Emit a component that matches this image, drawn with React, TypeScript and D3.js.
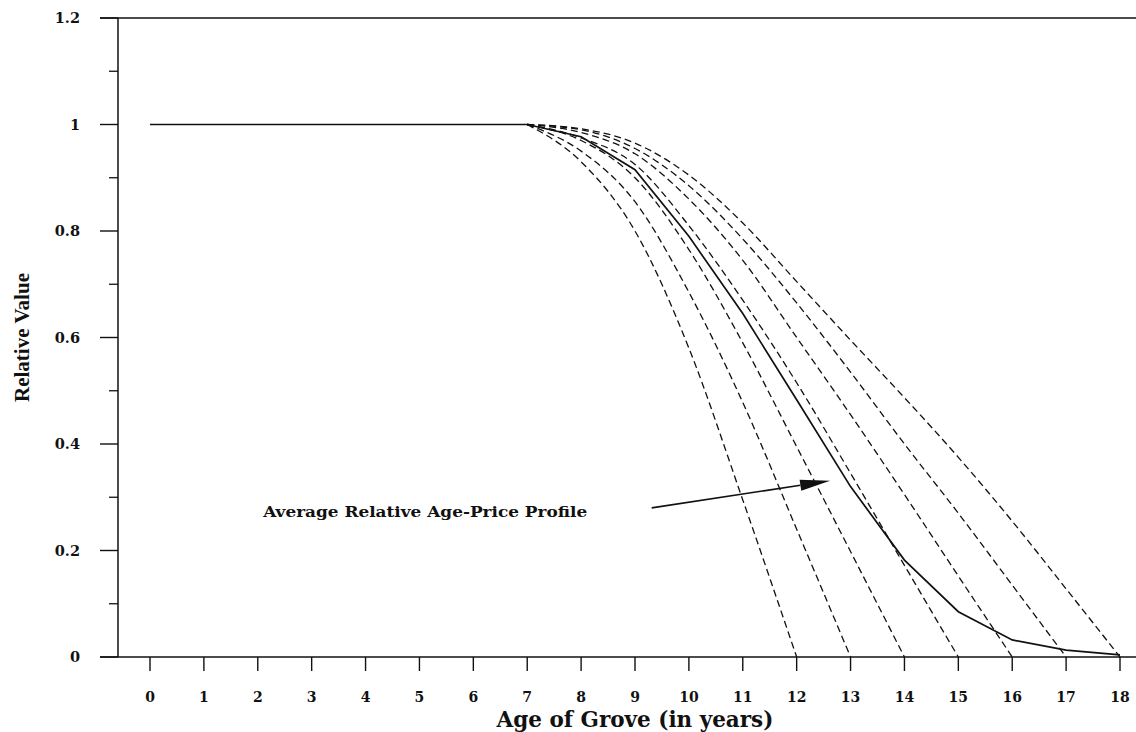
import React from "react";
import * as d3 from "d3";

// Ages of the grove, 0..18 years
const ages: number[] = d3.range(0, 19);

// Average relative age-price profile (solid line)
const averageProfile: number[] = [
  1, 1, 1, 1, 1, 1, 1, 1, 0.977, 0.915, 0.79, 0.645, 0.483, 0.32, 0.182, 0.085, 0.032, 0.013, 0.004,
];

// Individual relative age-price profiles (dashed), each starting at age 7
const profileAges12: number[] = [7, 8, 9, 10, 11, 12];
const profile12: number[] = [1, 0.93, 0.8, 0.58, 0.295, 0];

const profileAges13: number[] = [7, 8, 9, 10, 11, 12, 13];
const profile13: number[] = [1, 0.95, 0.855, 0.685, 0.478, 0.24, 0];

const profileAges14: number[] = [7, 8, 9, 10, 11, 12, 13, 14];
const profile14: number[] = [1, 0.97, 0.9, 0.765, 0.59, 0.395, 0.198, 0];

const profileAges15: number[] = [7, 8, 9, 10, 11, 12, 13, 14, 15];
const profile15: number[] = [1, 0.975, 0.925, 0.81, 0.67, 0.515, 0.345, 0.172, 0];

const profileAges16: number[] = [7, 8, 9, 10, 11, 12, 13, 14, 15, 16];
const profile16: number[] = [1, 0.985, 0.945, 0.86, 0.745, 0.6, 0.455, 0.305, 0.152, 0];

const profileAges17: number[] = [7, 8, 9, 10, 11, 12, 13, 14, 15, 16, 17];
const profile17: number[] = [1, 0.99, 0.955, 0.885, 0.785, 0.665, 0.535, 0.4, 0.27, 0.135, 0];

const profileAges18: number[] = [7, 8, 9, 10, 11, 12, 13, 14, 15, 16, 17, 18];
const profile18: number[] = [1, 0.992, 0.965, 0.905, 0.815, 0.705, 0.595, 0.487, 0.375, 0.255, 0.128, 0];

const dashedProfiles: { ages: number[]; values: number[] }[] = [
  { ages: profileAges12, values: profile12 },
  { ages: profileAges13, values: profile13 },
  { ages: profileAges14, values: profile14 },
  { ages: profileAges15, values: profile15 },
  { ages: profileAges16, values: profile16 },
  { ages: profileAges17, values: profile17 },
  { ages: profileAges18, values: profile18 },
];

// Y-axis ticks
const yMajorTicks: number[] = [0, 0.2, 0.4, 0.6, 0.8, 1, 1.2];
const yTickLabels: string[] = ["0", "0.2", "0.4", "0.6", "0.8", "1", "1.2"];
const yMinorTicks: number[] = [0.1, 0.3, 0.5, 0.7, 0.9, 1.1];

// Annotation text and arrow (in data units: age, value)
const annotationLabel = "Average Relative Age-Price Profile";
const annotationTextAt: [number, number] = [2.1, 0.263];
const arrowFrom: [number, number] = [9.31, 0.28];
const arrowTo: [number, number] = [12.62, 0.331];

const W = 1136;
const H = 732;
const axisLeft = 118;
const axisTop = 18;
const axisBottom = 657;
const frameLeft = 100;

const tickFont = "'DejaVu Serif', serif";

export default function App() {
  const x = d3.scaleLinear().domain([0, 18]).range([150, 1120]);
  const y = d3.scaleLinear().domain([0, 1.2]).range([axisBottom, axisTop]);

  const line = d3
    .line<[number, number]>()
    .x((d) => x(d[0]))
    .y((d) => y(d[1]));

  const smoothLine = d3
    .line<[number, number]>()
    .x((d) => x(d[0]))
    .y((d) => y(d[1]))
    .curve(d3.curveMonotoneX);

  const solidPath = line(ages.map((a, i) => [a, averageProfile[i]] as [number, number])) || "";

  // Arrow geometry
  const ax0 = x(arrowFrom[0]);
  const ay0 = y(arrowFrom[1]);
  const ax1 = x(arrowTo[0]);
  const ay1 = y(arrowTo[1]);
  const ang = Math.atan2(ay1 - ay0, ax1 - ax0);
  const headLen = 30;
  const headHalf = 5.5;
  const bx = ax1 - headLen * Math.cos(ang);
  const by = ay1 - headLen * Math.sin(ang);
  const nx = -Math.sin(ang);
  const ny = Math.cos(ang);
  const head = `M${ax1},${ay1} L${bx + nx * headHalf},${by + ny * headHalf} L${bx - nx * headHalf},${by - ny * headHalf} Z`;

  return (
    <svg
      width={W}
      height={H}
      viewBox={`0 0 ${W} ${H}`}
      style={{ position: "absolute", left: 0, top: 0, background: "#fff" }}
    >
      <rect x={0} y={0} width={W} height={H} fill="#fff" />

      {/* frame: top edge, y axis, x axis */}
      <line x1={frameLeft} x2={W} y1={axisTop} y2={axisTop} stroke="#111" strokeWidth={1.5} />
      <line x1={axisLeft} x2={axisLeft} y1={axisTop} y2={axisBottom} stroke="#111" strokeWidth={1.5} />
      <line x1={frameLeft} x2={W} y1={axisBottom} y2={axisBottom} stroke="#111" strokeWidth={1.5} />

      {/* y ticks */}
      {yMajorTicks.map((v, i) => (
        <g key={"ym" + i}>
          <line x1={frameLeft} x2={axisLeft} y1={y(v)} y2={y(v)} stroke="#111" strokeWidth={1.4} />
          <text
            x={80}
            y={y(v)}
            dy="0.36em"
            textAnchor="end"
            fontFamily={tickFont}
            fontWeight="bold"
            fontSize={14.5}
            fill="#111"
          >
            {yTickLabels[i]}
          </text>
        </g>
      ))}
      {yMinorTicks.map((v, i) => (
        <line key={"yn" + i} x1={109} x2={axisLeft} y1={y(v)} y2={y(v)} stroke="#111" strokeWidth={1.3} />
      ))}

      {/* x ticks */}
      {ages.map((a) => (
        <g key={"xt" + a}>
          <line x1={x(a)} x2={x(a)} y1={axisBottom} y2={axisBottom + 14} stroke="#111" strokeWidth={1.4} />
          <text
            x={x(a)}
            y={702}
            textAnchor="middle"
            fontFamily={tickFont}
            fontWeight="bold"
            fontSize={14}
            fill="#111"
          >
            {a}
          </text>
        </g>
      ))}

      {/* axis titles */}
      <text
        x={635}
        y={727}
        textAnchor="middle"
        fontFamily={tickFont}
        fontWeight="bold"
        fontSize={21.5}
        fill="#111"
      >
        Age of Grove (in years)
      </text>
      <text
        transform={`translate(29, ${(axisTop + axisBottom) / 2}) rotate(-90)`}
        textAnchor="middle"
        fontFamily="'Liberation Serif', 'Times New Roman', serif"
        fontWeight="bold"
        fontSize={21}
        fill="#111"
      >
        Relative Value
      </text>

      {/* dashed individual profiles */}
      {dashedProfiles.map((p, i) => (
        <path
          key={"dp" + i}
          d={smoothLine(p.ages.map((a, j) => [a, p.values[j]] as [number, number])) || ""}
          fill="none"
          stroke="#111"
          strokeWidth={1.3}
          strokeDasharray="7 4"
        />
      ))}

      {/* average profile */}
      <path d={solidPath} fill="none" stroke="#111" strokeWidth={1.7} />

      {/* annotation */}
      <text
        x={x(annotationTextAt[0])}
        y={y(annotationTextAt[1])}
        fontFamily={tickFont}
        fontWeight="bold"
        fontSize={15.5}
        fill="#111"
        textLength={324}
        lengthAdjust="spacingAndGlyphs"
      >
        {annotationLabel}
      </text>
      <line x1={ax0} y1={ay0} x2={bx} y2={by} stroke="#111" strokeWidth={1.6} />
      <path d={head} fill="#111" />
    </svg>
  );
}
